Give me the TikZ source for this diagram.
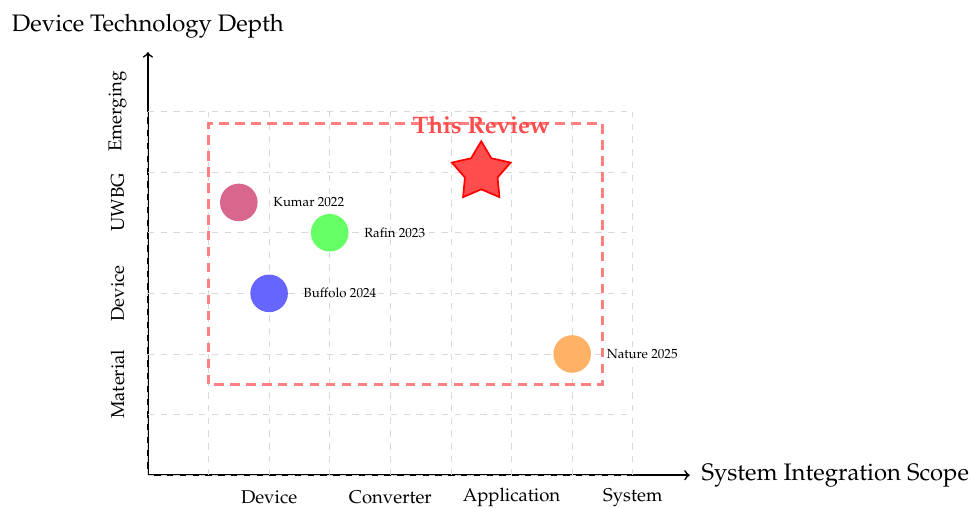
\documentclass[tikz,border=0pt]{standalone}
\usepackage[T1]{fontenc}
\usepackage{mathpazo}
\usetikzlibrary{shapes.geometric,positioning}

\tikzset{
  gridline/.style={gray!30,dashed},
  axisline/.style={thick,->},
  paper/.style={circle,minimum size=0.62cm,inner sep=0pt},
  paperlabel/.style={font=\fontsize{6.2}{7}\selectfont},
  ticklabel/.style={font=\fontsize{8.7}{10}\selectfont},
  axistitle/.style={font=\fontsize{11.2}{13}\selectfont},
  scopebox/.style={red!50,very thick,dash pattern=on 4.5pt off 3pt},
}

\begin{document}
\begin{tikzpicture}
\useasboundingbox (-2.44,-0.53) rectangle (13.58,7.84);
% axes
\coordinate (origin) at (0,0);
\coordinate (xend) at (8.94,0);
\coordinate (yend) at (0,6.98);
\draw[axisline] (origin) -- (xend);
\draw[axisline] (origin) -- (yend);
\node[axistitle,right=2pt] (xtitle) at (xend) {System Integration Scope};
\node[axistitle,above=3pt] (ytitle) at (yend) {Device Technology Depth};
% grid on top of the axes
\draw[gridline] (0,0) grid (8,6);
% scope labels along x
\node[ticklabel] (tdevice) at (2,-0.37) {Device};
\node[ticklabel] (tconverter) at (4,-0.37) {Converter};
\node[ticklabel] (tapplication) at (6,-0.37) {Application};
\node[ticklabel] (tsystem) at (8,-0.37) {System};
% depth labels along y
\node[ticklabel,rotate=90] (tmaterial) at (-0.5,1.5) {Material};
\node[ticklabel,rotate=90] (tdevicey) at (-0.5,3) {Device};
\node[ticklabel,rotate=90] (tuwbg) at (-0.5,4.5) {UWBG};
\node[ticklabel,rotate=90] (temerging) at (-0.5,6) {Emerging};
% coverage of this review
\draw[scopebox] (1,1.5) rectangle (7.5,5.8);
\node[font=\bfseries\fontsize{11.2}{13}\selectfont,text=red!70] (review) at (5.5,5.78) {This Review};
\node[star,star points=5,star point ratio=1.8,minimum size=1.02cm,inner sep=0pt,
      draw=red,fill=red!70,thick] (star) at (5.5,5.0) {};
% earlier reviews
\node[paper,fill=purple!60] (kumar) at (1.5,4.5) {};
\node[paperlabel,right=0.13cm of kumar] (kumarlbl) {Kumar 2022};
\node[paper,fill=green!60] (rafin) at (3,4) {};
\node[paperlabel,right=0.13cm of rafin] (rafinlbl) {Rafin 2023};
\node[paper,fill=blue!60] (buffolo) at (2,3) {};
\node[paperlabel,right=0.13cm of buffolo] (buffololbl) {Buffolo 2024};
\node[paper,fill=orange!60] (nature) at (7,2) {};
\node[paperlabel,right=0.13cm of nature] (naturelbl) {Nature 2025};
\end{tikzpicture}
\end{document}
